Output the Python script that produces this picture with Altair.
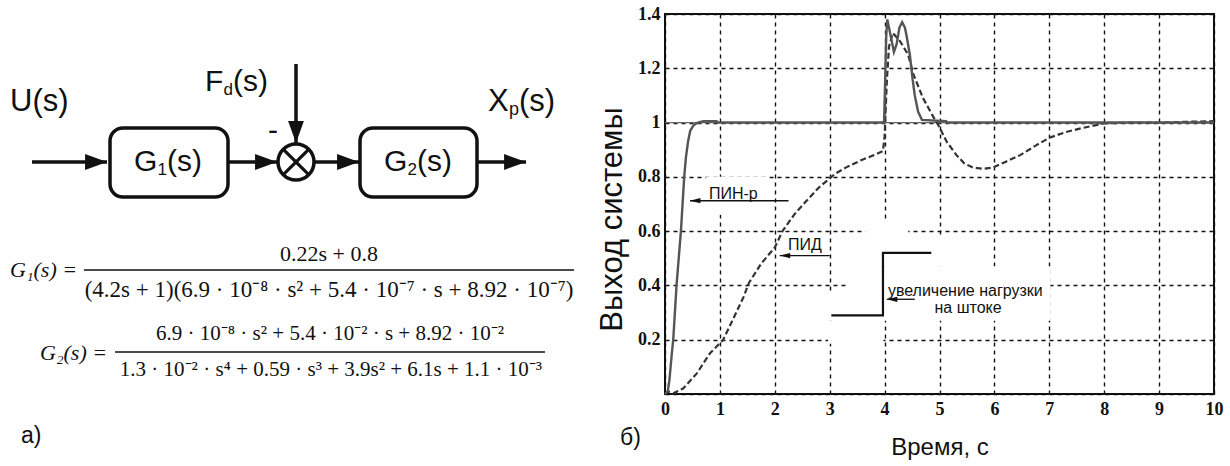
import altair as alt
import pandas as pd

# ---------------- right panel: step responses ----------------
pin_t = [0.0, 0.05, 0.08, 0.12, 0.15, 0.21, 0.29, 0.35, 0.38, 0.42, 0.46, 0.52, 0.60, 0.70, 0.94, 0.97,
         3.99, 4.01, 4.03, 4.05, 4.10, 4.17, 4.22, 4.27, 4.32, 4.37, 4.40, 4.46, 4.51, 4.55, 4.61, 4.68,
         5.12, 5.14, 10.0]
pin_v = [0.0, 0.01, 0.05, 0.14, 0.20, 0.40, 0.60, 0.80, 0.87, 0.93, 0.97, 0.99, 1.0, 1.005, 1.005, 1.0,
         1.0, 1.15, 1.32, 1.38, 1.33, 1.26, 1.29, 1.35, 1.37, 1.35, 1.32, 1.25, 1.16, 1.10, 1.04, 1.01,
         1.005, 1.0, 1.0]

pid_t = [0.0, 0.06, 0.15, 0.33, 0.58, 0.82, 1.06, 1.25, 1.43, 1.53, 1.75, 2.0, 2.14, 2.35, 2.57, 2.8,
         3.09, 3.3, 3.56, 3.8, 3.97, 4.0, 4.04, 4.08, 4.15, 4.28, 4.43, 4.52, 4.70, 4.89, 4.98, 5.13,
         5.31, 5.45, 5.61, 5.8, 5.97, 6.2, 6.47, 6.75, 7.0, 7.3, 7.6, 8.0, 8.5, 9.0, 9.5, 10.0]
pid_v = [0.0, 0.01, 0.003, 0.02, 0.076, 0.15, 0.2, 0.28, 0.357, 0.41, 0.48, 0.54, 0.60, 0.66, 0.71, 0.76,
         0.81, 0.835, 0.86, 0.88, 0.895, 0.95, 1.15, 1.28, 1.33, 1.30, 1.25, 1.18, 1.09, 1.02, 0.99, 0.93,
         0.88, 0.85, 0.834, 0.83, 0.834, 0.855, 0.88, 0.915, 0.944, 0.965, 0.98, 0.997, 1.0, 1.0, 1.003, 1.005]

set_t = [0, 10]
set_v = [1, 1]

# load-step symbol
step_t = [3.03, 3.97, 3.97, 4.85]
step_v = [0.29, 0.29, 0.52, 0.52]

# annotations
ann_text = ["ПИН-р", "ПИД", "увеличение нагрузки", "на штоке"]
ann_t = [0.80, 2.24, 4.06, 5.52]
ann_v = [0.737, 0.548, 0.38, 0.316]
ann_align = ["left", "left", "left", "center"]

arr_tip_t = [0.455, 2.09, 4.04]
arr_tail_t = [2.25, 3.0, 4.55]
arr_v = [0.712, 0.51, 0.349]

# places where the grid is broken (white background behind notes)
patch_t1 = [3.3, 3.65, 4.9, 2.97, 2.95, 0.75]
patch_t2 = [7.02, 4.43, 5.1, 3.98, 3.3, 1.9]
patch_v1 = [0.27, 0.47, 0.47, 0.185, 0.27, 0.66]
patch_v2 = [0.47, 0.64, 0.585, 0.27, 0.37, 0.80]

x_ticks = [0, 1, 2, 3, 4, 5, 6, 7, 8, 9, 10]
y_ticks = [0, 0.2, 0.4, 0.6, 0.8, 1, 1.2, 1.4]

# ---------------- left panel: block diagram + formulas (pixel layout) ----------------
box_x1 = [110, 360]
box_x2 = [228, 477]
box_y1 = [128, 128]
box_y2 = [197, 197]

line_x1 = [32, 228, 296, 315, 477]
line_y1 = [162, 162, 64, 162, 162]
line_x2 = [107, 277, 296, 359, 526]
line_y2 = [162, 162, 143, 162, 162]
head_angle = [0, 0, 90, 0, 0]

sum_x = [296]
sum_y = [162]
cross_x1 = [283.3, 283.3]
cross_y1 = [149.3, 174.7]
cross_x2 = [308.7, 308.7]
cross_y2 = [174.7, 149.3]

dia_text = ["U(s)", "G", "1", "(s)", "G", "2", "(s)", "-", "F", "d", "(s)", "X", "p", "(s)", "а)", "б)"]
dia_x = [10, 134, 157.5, 167, 384, 407.5, 417, 268, 205, 223.5, 233, 488, 509, 519, 21, 620]
dia_y = [102, 162, 170, 162, 162, 170, 162, 131, 82, 90, 82, 102, 110, 102, 436, 438]
dia_size = [31, 30, 17, 30, 30, 17, 30, 30, 30, 17, 30, 31, 18, 31, 23, 23]

frm_lbl = ["G₁(s) =", "G₂(s) ="]
frm_lbl_x = [10, 40]
frm_lbl_y = [270, 353]

frm_text = ["0.22s + 0.8",
            "(4.2s + 1)(6.9 · 10⁻⁸ · s² + 5.4 · 10⁻⁷ · s + 8.92 · 10⁻⁷)",
            "6.9 · 10⁻⁸ · s² + 5.4 · 10⁻² · s + 8.92 · 10⁻²",
            "1.3 · 10⁻² · s⁴ + 0.59 · s³ + 3.9s² + 6.1s + 1.1 · 10⁻³"]
frm_x = [329, 329, 330, 331]
frm_y = [254, 290, 334, 370]
frm_size = [22, 23, 21, 21]

bar_x1 = [84, 115]
bar_x2 = [574, 545]
bar_y = [270, 352]

# ---------------- chart ----------------
W, H = 549, 380
LEFT, TOP = 665, 14

LAB_FONT = "Liberation Sans Narrow"
TXT_FONT = "Liberation Sans"
SERIF = "Liberation Serif"

xs = alt.Scale(domain=[0, 10], nice=False, zero=False)
ys = alt.Scale(domain=[0, 1.4], nice=False, zero=False)

x_axis = alt.Axis(values=x_ticks, grid=True, gridColor="#111", gridDash=[4, 4], gridWidth=1.4,
                  gridOpacity=1, ticks=False, domain=False, labelFont=LAB_FONT, labelFontSize=18,
                  labelFontWeight="bold", labelColor="#111", labelPadding=6, labelFlush=False,
                  title="Время, с", titleFont=TXT_FONT, titleFontSize=24, titleFontWeight="normal",
                  titleColor="#111", titleY=53, titleBaseline="middle", titleAnchor="middle")
y_axis = alt.Axis(values=y_ticks, grid=True, gridColor="#111", gridDash=[4, 4], gridWidth=1.4,
                  gridOpacity=1, ticks=False, domain=False, labelFont=LAB_FONT, labelFontSize=18,
                  labelFontWeight="bold", labelColor="#111", labelPadding=5, labelFlush=False,
                  labelExpr="datum.value == 0 ? '' : toString(datum.value)",
                  title="Выход системы", titleFont=TXT_FONT, titleFontSize=31, titleFontWeight="normal",
                  titleColor="#111", titleAngle=270, titleX=-53, titleY=205,
                  titleAlign="center", titleBaseline="middle")


def X(field):
    return alt.X(field, type="quantitative", scale=xs, axis=x_axis)


def Y(field):
    return alt.Y(field, type="quantitative", scale=ys, axis=y_axis)


patches = alt.Chart(pd.DataFrame({"t": patch_t1, "t2": patch_t2, "v": patch_v1, "v2": patch_v2})).mark_rect(
    color="white").encode(x=X("t"), x2="t2", y=Y("v"), y2="v2")

setpoint = alt.Chart(pd.DataFrame({"t": set_t, "v": set_v})).mark_line(
    color="#6a6a6a", strokeWidth=1.3).encode(x=X("t"), y=Y("v"))

pid = alt.Chart(pd.DataFrame({"t": pid_t, "v": pid_v, "o": list(range(len(pid_t)))})).mark_line(
    color="#333", strokeWidth=2.2, strokeDash=[6, 3]).encode(x=X("t"), y=Y("v"), order="o:Q")

pin = alt.Chart(pd.DataFrame({"t": pin_t, "v": pin_v, "o": list(range(len(pin_t)))})).mark_line(
    color="#555", strokeWidth=2.4).encode(x=X("t"), y=Y("v"), order="o:Q")

step = alt.Chart(pd.DataFrame({"t": step_t, "v": step_v, "o": list(range(len(step_t)))})).mark_line(
    color="#111", strokeWidth=2.2).encode(x=X("t"), y=Y("v"), order="o:Q")

ann_df = pd.DataFrame({"txt": ann_text, "t": ann_t, "v": ann_v, "al": ann_align})
ann_left = alt.Chart(ann_df[ann_df["al"] == "left"]).mark_text(
    align="left", baseline="middle", font=TXT_FONT, fontSize=16, color="#111").encode(
    x=X("t"), y=Y("v"), text="txt:N")
ann_center = alt.Chart(ann_df[ann_df["al"] == "center"]).mark_text(
    align="center", baseline="middle", font=TXT_FONT, fontSize=16, color="#111").encode(
    x=X("t"), y=Y("v"), text="txt:N")

arr_df = pd.DataFrame({"t": arr_tip_t, "t2": arr_tail_t, "v": arr_v})
arr_lines = alt.Chart(arr_df).mark_rule(color="#111", strokeWidth=1.3).encode(
    x=X("t"), x2="t2", y=Y("v"))
arr_heads = alt.Chart(arr_df).mark_point(
    shape="M0,0L-2,-0.5L-2,0.5Z", filled=True, color="#111", opacity=1, size=110, angle=180).encode(
    x=X("t"), y=Y("v"))

main = alt.layer(patches, setpoint, pid, pin, step, arr_lines, arr_heads, ann_left, ann_center)

# pixel scales for the diagram (shifted so that values are page pixels)
px = alt.Scale(domain=[LEFT, LEFT + W], nice=False, zero=False)
py = alt.Scale(domain=[TOP, TOP + H], nice=False, zero=False, reverse=True)


def PX(field):
    return alt.X(field, type="quantitative", scale=px, axis=None)


def PY(field):
    return alt.Y(field, type="quantitative", scale=py, axis=None)


boxes = alt.Chart(pd.DataFrame({"x": box_x1, "x2": box_x2, "y": box_y1, "y2": box_y2})).mark_rect(
    fill="white", stroke="#111", strokeWidth=3.5, cornerRadius=13).encode(
    x=PX("x"), x2="x2", y=PY("y"), y2="y2")

lines_df = pd.DataFrame({"x": line_x1, "y": line_y1, "x2": line_x2, "y2": line_y2, "a": head_angle})
d_lines = alt.Chart(lines_df).mark_rule(color="#111", strokeWidth=3.5).encode(
    x=PX("x"), y=PY("y"), x2="x2", y2="y2")
d_heads = alt.Chart(lines_df).mark_point(
    shape="M0,0L-2,-0.72L-2,0.72Z", filled=True, color="#111", opacity=1, size=480).encode(
    x=PX("x2"), y=PY("y2"), angle=alt.Angle("a:Q", scale=None))

sum_circle = alt.Chart(pd.DataFrame({"x": sum_x, "y": sum_y})).mark_point(
    shape="circle", size=1296, filled=False, stroke="#111", strokeWidth=3.5, opacity=1, fill="white").encode(
    x=PX("x"), y=PY("y"))
cross = alt.Chart(pd.DataFrame({"x": cross_x1, "y": cross_y1, "x2": cross_x2, "y2": cross_y2})).mark_rule(
    color="#111", strokeWidth=3.2).encode(x=PX("x"), y=PY("y"), x2="x2", y2="y2")

dia_txt = alt.Chart(pd.DataFrame({"txt": dia_text, "x": dia_x, "y": dia_y, "s": dia_size})).mark_text(
    align="left", baseline="middle", font=TXT_FONT, color="#111").encode(
    x=PX("x"), y=PY("y"), text="txt:N", size=alt.Size("s:Q", scale=None))

f_lbl = alt.Chart(pd.DataFrame({"txt": frm_lbl, "x": frm_lbl_x, "y": frm_lbl_y})).mark_text(
    align="left", baseline="middle", font=SERIF, fontSize=22, fontStyle="italic", color="#111").encode(
    x=PX("x"), y=PY("y"), text="txt:N")
f_txt = alt.Chart(pd.DataFrame({"txt": frm_text, "x": frm_x, "y": frm_y, "s": frm_size})).mark_text(
    align="center", baseline="middle", font=SERIF, color="#111").encode(
    x=PX("x"), y=PY("y"), text="txt:N", size=alt.Size("s:Q", scale=None))
f_bar = alt.Chart(pd.DataFrame({"x": bar_x1, "x2": bar_x2, "y": bar_y})).mark_rule(
    color="#111", strokeWidth=1.6).encode(x=PX("x"), x2="x2", y=PY("y"))

diagram = alt.layer(d_lines, d_heads, boxes, sum_circle, cross, dia_txt, f_lbl, f_txt, f_bar)

chart = alt.layer(main, diagram).resolve_scale(x="independent", y="independent").properties(
    width=W, height=H,
    padding={"left": LEFT, "top": TOP, "right": 1230 - LEFT - W, "bottom": 466 - TOP - H},
    autosize=alt.AutoSizeParams(type="none"),
    background="white",
).configure_view(stroke="#111", strokeWidth=2)

chart.save("out.html", embed_options={"renderer": "svg", "actions": False})
